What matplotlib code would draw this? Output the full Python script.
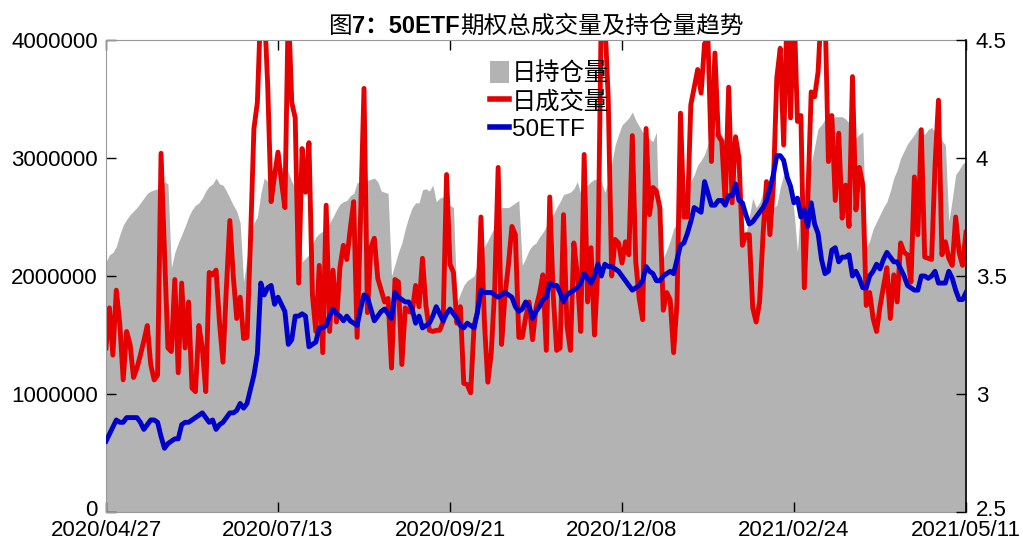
import matplotlib
matplotlib.use("Agg")
import matplotlib.pyplot as plt
import matplotlib.transforms as mtransforms
from matplotlib.patches import Patch
from matplotlib.lines import Line2D
from matplotlib.offsetbox import TextArea, HPacker, AnchoredOffsetbox
import numpy as np

FAM = ['Liberation Sans', 'Noto Sans CJK SC']
plt.rcParams['font.family'] = FAM

# ---- data (trading-day index 0..250, 2020/04/27 .. 2021/05/11) ----
tick_pos = [0, 50, 100, 150, 200, 250]
tick_labels = ['2020/04/27', '2020/07/13', '2020/09/21', '2020/12/08', '2021/02/24', '2021/05/11']

# 日持仓量 (millions of contracts)
open_interest = [
    2.12, 2.18, 2.20, 2.25, 2.35, 2.43, 2.48, 2.52, 2.55, 2.58,
    2.62, 2.66, 2.70, 2.72, 2.73, 2.74, 2.74, 2.80, 2.78, 2.07,
    2.20, 2.28, 2.35, 2.42, 2.50, 2.56, 2.60, 2.62, 2.66, 2.72,
    2.76, 2.78, 2.83, 2.78, 2.77, 2.72, 2.66, 2.60, 2.55, 2.45,
    1.95, 2.15, 2.30, 2.45, 2.50, 2.70, 2.83, 2.80, 2.78, 2.97,
    2.92, 2.92, 2.92, 2.88, 2.80, 2.75, 2.70, 2.12, 2.15, 2.18,
    2.27, 2.33, 2.36, 2.38, 2.40, 2.45, 2.50, 2.56, 2.61, 2.63,
    2.64, 2.68, 2.70, 2.79, 2.80, 2.80, 2.81, 2.82, 2.83, 2.80,
    2.72, 2.71, 2.70, 2.00, 2.10, 2.20, 2.28, 2.40, 2.50, 2.58,
    2.62, 2.62, 2.73, 2.74, 2.72, 2.77, 2.63, 2.66, 2.67, 2.64,
    2.60, 2.58, 1.78, 1.85, 1.92, 1.96, 1.98, 2.00, 2.10, 2.20,
    2.25, 2.30, 2.36, 2.42, 2.50, 2.58, 2.58, 2.58, 2.60, 2.62,
    2.64, 2.09, 2.15, 2.22, 2.26, 2.28, 2.33, 2.37, 2.42, 2.48,
    2.52, 2.58, 2.63, 2.69, 2.70, 2.71, 2.74, 2.80, 2.70, 2.74,
    2.77, 2.80, 2.82, 2.81, 2.80, 2.71, 2.80, 2.95, 3.11, 3.20,
    3.28, 3.31, 3.34, 3.39, 3.32, 3.27, 3.22, 3.20, 3.16, 3.14,
    3.22, 2.07, 2.15, 2.22, 2.30, 2.40, 2.45, 2.55, 2.62, 2.70,
    2.80, 2.86, 2.94, 2.98, 3.03, 3.12, 3.20, 3.22, 3.24, 3.20,
    3.14, 3.07, 3.00, 2.90, 2.65, 2.25, 2.35, 2.50, 2.66, 2.58,
    2.62, 2.71, 2.69, 2.66, 2.58, 2.60, 2.75, 2.86, 2.80, 2.75,
    2.55, 2.20, 2.63, 2.72, 2.80, 2.95, 3.10, 3.25, 3.28, 3.33,
    3.34, 3.33, 3.35, 3.35, 3.35, 3.33, 3.30, 3.25, 3.17, 3.20,
    3.22, 2.24, 2.30, 2.40, 2.46, 2.52, 2.58, 2.63, 2.72, 2.83,
    2.90, 3.00, 3.06, 3.12, 3.16, 3.20, 3.25, 3.22, 3.20, 3.24,
    3.26, 3.22, 3.20, 3.15, 3.11, 2.46, 2.65, 2.86, 2.90, 2.95,
    2.97,
]

# 日成交量 (millions of contracts)
volume = [
    1.39, 1.73, 1.33, 1.88, 1.60, 1.12, 1.53, 1.42, 1.14, 1.22,
    1.33, 1.45, 1.58, 1.25, 1.12, 1.16, 3.04, 2.20, 1.39, 1.36,
    1.97, 1.18, 1.94, 1.39, 1.78, 1.05, 1.02, 1.58, 1.39, 1.02,
    2.03, 2.01, 2.05, 1.60, 1.27, 1.90, 2.47, 2.00, 1.64, 1.82,
    1.47, 1.48, 2.30, 3.25, 3.47, 4.30, 4.30, 3.62, 2.63, 2.85,
    3.05, 2.80, 2.58, 4.30, 3.47, 3.34, 1.94, 3.08, 2.71, 3.13,
    1.84, 1.53, 2.09, 1.35, 2.60, 1.53, 2.05, 1.61, 2.07, 2.26,
    2.14, 2.40, 2.63, 1.48, 2.50, 3.59, 1.69, 2.24, 2.32, 1.98,
    1.88, 1.78, 1.81, 1.22, 1.97, 1.95, 1.25, 1.73, 1.70, 1.69,
    1.92, 1.74, 2.15, 1.75, 1.54, 1.53, 1.54, 1.54, 1.61, 2.86,
    2.10, 2.03, 1.60, 1.74, 1.09, 1.08, 1.01, 1.58, 1.69, 2.50,
    1.61, 1.10, 1.35, 1.90, 2.92, 1.42, 1.84, 2.10, 2.42, 2.35,
    1.48, 1.48, 1.65, 1.78, 1.46, 1.73, 1.85, 2.01, 1.37, 2.67,
    1.84, 1.37, 1.39, 2.52, 1.58, 1.37, 2.28, 2.01, 1.53, 3.03,
    1.78, 2.24, 1.50, 2.07, 4.30, 4.20, 3.50, 2.00, 2.31, 2.28,
    2.11, 2.29, 2.18, 3.19, 2.12, 1.81, 1.63, 3.25, 2.52, 2.75,
    2.72, 2.58, 1.71, 1.86, 1.80, 1.35, 1.78, 3.38, 2.50, 2.50,
    3.45, 3.60, 3.75, 3.55, 3.97, 4.00, 2.97, 3.89, 3.19, 3.14,
    2.62, 3.60, 2.62, 3.18, 3.00, 2.26, 2.35, 2.35, 1.73, 1.61,
    1.78, 2.35, 2.80, 2.35, 2.77, 3.68, 3.93, 3.11, 4.30, 3.34,
    4.30, 3.31, 3.36, 1.90, 2.63, 3.56, 3.52, 3.73, 4.30, 4.30,
    2.97, 3.36, 2.64, 3.21, 2.49, 2.77, 2.42, 3.69, 2.56, 2.92,
    2.77, 1.75, 1.86, 1.64, 1.53, 1.74, 1.91, 2.07, 1.64, 2.01,
    1.78, 2.28, 2.20, 2.18, 1.95, 2.84, 2.35, 3.24, 2.16, 2.15,
    2.14, 2.94, 3.49, 2.18, 2.29, 2.15, 2.09, 2.50, 2.20, 2.09,
    2.37,
]

# 50ETF close
etf = [
    2.80, 2.83, 2.86, 2.89, 2.88, 2.88, 2.90, 2.90, 2.90, 2.90,
    2.88, 2.85, 2.87, 2.89, 2.89, 2.88, 2.82, 2.77, 2.79, 2.80,
    2.81, 2.81, 2.87, 2.88, 2.88, 2.89, 2.90, 2.91, 2.92, 2.90,
    2.88, 2.89, 2.85, 2.87, 2.88, 2.90, 2.92, 2.92, 2.93, 2.96,
    2.94, 2.96, 3.02, 3.08, 3.17, 3.47, 3.42, 3.45, 3.46, 3.38,
    3.41, 3.38, 3.35, 3.21, 3.23, 3.33, 3.33, 3.34, 3.33, 3.20,
    3.21, 3.22, 3.28, 3.28, 3.29, 3.33, 3.36, 3.34, 3.33, 3.31,
    3.33, 3.31, 3.30, 3.29, 3.36, 3.42, 3.41, 3.36, 3.31, 3.33,
    3.35, 3.36, 3.34, 3.32, 3.43, 3.41, 3.40, 3.39, 3.39, 3.36,
    3.30, 3.33, 3.28, 3.29, 3.30, 3.33, 3.37, 3.34, 3.31, 3.34,
    3.36, 3.34, 3.32, 3.29, 3.28, 3.30, 3.29, 3.28, 3.35, 3.44,
    3.43, 3.43, 3.43, 3.42, 3.41, 3.42, 3.43, 3.42, 3.41, 3.37,
    3.35, 3.36, 3.39, 3.37, 3.32, 3.35, 3.37, 3.40, 3.41, 3.47,
    3.46, 3.46, 3.43, 3.39, 3.42, 3.43, 3.44, 3.45, 3.47, 3.51,
    3.49, 3.47, 3.50, 3.55, 3.50, 3.55, 3.54, 3.54, 3.53, 3.52,
    3.50, 3.48, 3.46, 3.44, 3.45, 3.46, 3.48, 3.54, 3.52, 3.51,
    3.48, 3.48, 3.50, 3.51, 3.52, 3.51, 3.57, 3.63, 3.64, 3.68,
    3.73, 3.79, 3.78, 3.77, 3.90, 3.85, 3.80, 3.80, 3.82, 3.82,
    3.80, 3.84, 3.84, 3.89, 3.82, 3.81, 3.76, 3.72, 3.73, 3.75,
    3.77, 3.79, 3.82, 3.87, 3.93, 4.01, 4.01, 3.99, 3.92, 3.88,
    3.81, 3.83, 3.75, 3.78, 3.71, 3.81, 3.72, 3.68, 3.57, 3.51,
    3.52, 3.61, 3.62, 3.56, 3.58, 3.58, 3.59, 3.50, 3.52, 3.49,
    3.45, 3.45, 3.50, 3.52, 3.55, 3.53, 3.57, 3.60, 3.58, 3.56,
    3.56, 3.53, 3.50, 3.46, 3.45, 3.44, 3.44, 3.50, 3.50, 3.49,
    3.50, 3.52, 3.47, 3.47, 3.47, 3.52, 3.49, 3.44, 3.40, 3.40,
    3.43,
]

left_ticks = [0, 1000000, 2000000, 3000000, 4000000]
right_ticks = [2.5, 3, 3.5, 4, 4.5]

# ---- plot ----
x = np.arange(len(etf))
oi = np.array(open_interest) * 1e6
vol = np.array(volume) * 1e6

fig = plt.figure(figsize=(10.23, 5.41), dpi=100)
ax = fig.add_axes([106/1023, 29/541, 860/1023, 472/541])
ax2 = ax.twinx()

GRAY = '#b3b3b3'
RED = '#e60000'
BLUE = '#0000cc'

ax.fill_between(x, 0, oi, color=GRAY, lw=0, zorder=1)
ax.plot(x, vol, color=RED, lw=3.5, solid_joinstyle='round', zorder=2)
ax2.plot(x, etf, color=BLUE, lw=3.5, solid_joinstyle='round', zorder=3)

ax.set_xlim(0, len(etf) - 1)
ax.set_ylim(0, 4000000)
ax2.set_ylim(2.5, 4.5)

FS = 16
ax.set_yticks(left_ticks)
ax.set_yticklabels([str(v) for v in left_ticks], fontsize=FS)
ax2.set_yticks(right_ticks)
ax2.set_yticklabels([('%g' % v) for v in right_ticks], fontsize=FS)
ax.set_xticks(tick_pos)
ax.set_xticklabels(tick_labels, fontsize=FS)

ax.tick_params(axis='y', direction='in', length=7, width=1, color='black', pad=6)
ax.tick_params(axis='x', direction='in', length=7, width=1, top=True, bottom=True, pad=6)
ax2.tick_params(axis='y', direction='in', length=7, width=1, color='black', pad=7)

# lift the bottom-most y labels slightly so they do not collide with the dates
lift = mtransforms.ScaledTranslation(0, 3 / 72, fig.dpi_scale_trans)
for lab in (ax.get_yticklabels()[0], ax2.get_yticklabels()[0]):
    lab.set_transform(lab.get_transform() + lift)

for s in ['left', 'top', 'bottom']:
    ax.spines[s].set_color('#999999')
    ax2.spines[s].set_visible(False)
ax.spines['right'].set_visible(False)
ax2.spines['right'].set_color('black')
ax2.spines['right'].set_linewidth(1.2)

ax.set_zorder(ax2.get_zorder() - 1)
ax.patch.set_visible(True)
ax2.patch.set_visible(False)

handles = [Patch(facecolor=GRAY, edgecolor='none'),
           Line2D([], [], color=RED, lw=4),
           Line2D([], [], color=BLUE, lw=4)]
labels = ['日持仓量', '日成交量', '50ETF']
ax2.legend(handles, labels, loc='upper left', bbox_to_anchor=(0.447, 0.955),
           frameon=False, prop=dict(family=FAM, size=17.5), handlelength=0.75,
           handleheight=1.0, handletextpad=0.12, labelspacing=0.15,
           borderpad=0, borderaxespad=0)

# title with bold "7：50ETF"
TFS = 17
parts = [TextArea('图', textprops=dict(fontsize=TFS, family=FAM)),
         TextArea('7：50ETF', textprops=dict(fontsize=TFS, family=FAM, weight='bold')),
         TextArea('期权总成交量及持仓量趋势', textprops=dict(fontsize=TFS, family=FAM))]
box = HPacker(children=parts, align='baseline', pad=0, sep=0)
title = AnchoredOffsetbox(loc='lower center', child=box, bbox_to_anchor=(0.5, 1.0),
                          bbox_transform=ax.transAxes, frameon=False, borderpad=0.15, pad=0)
ax2.add_artist(title)

fig.savefig('out.png', dpi=100)
